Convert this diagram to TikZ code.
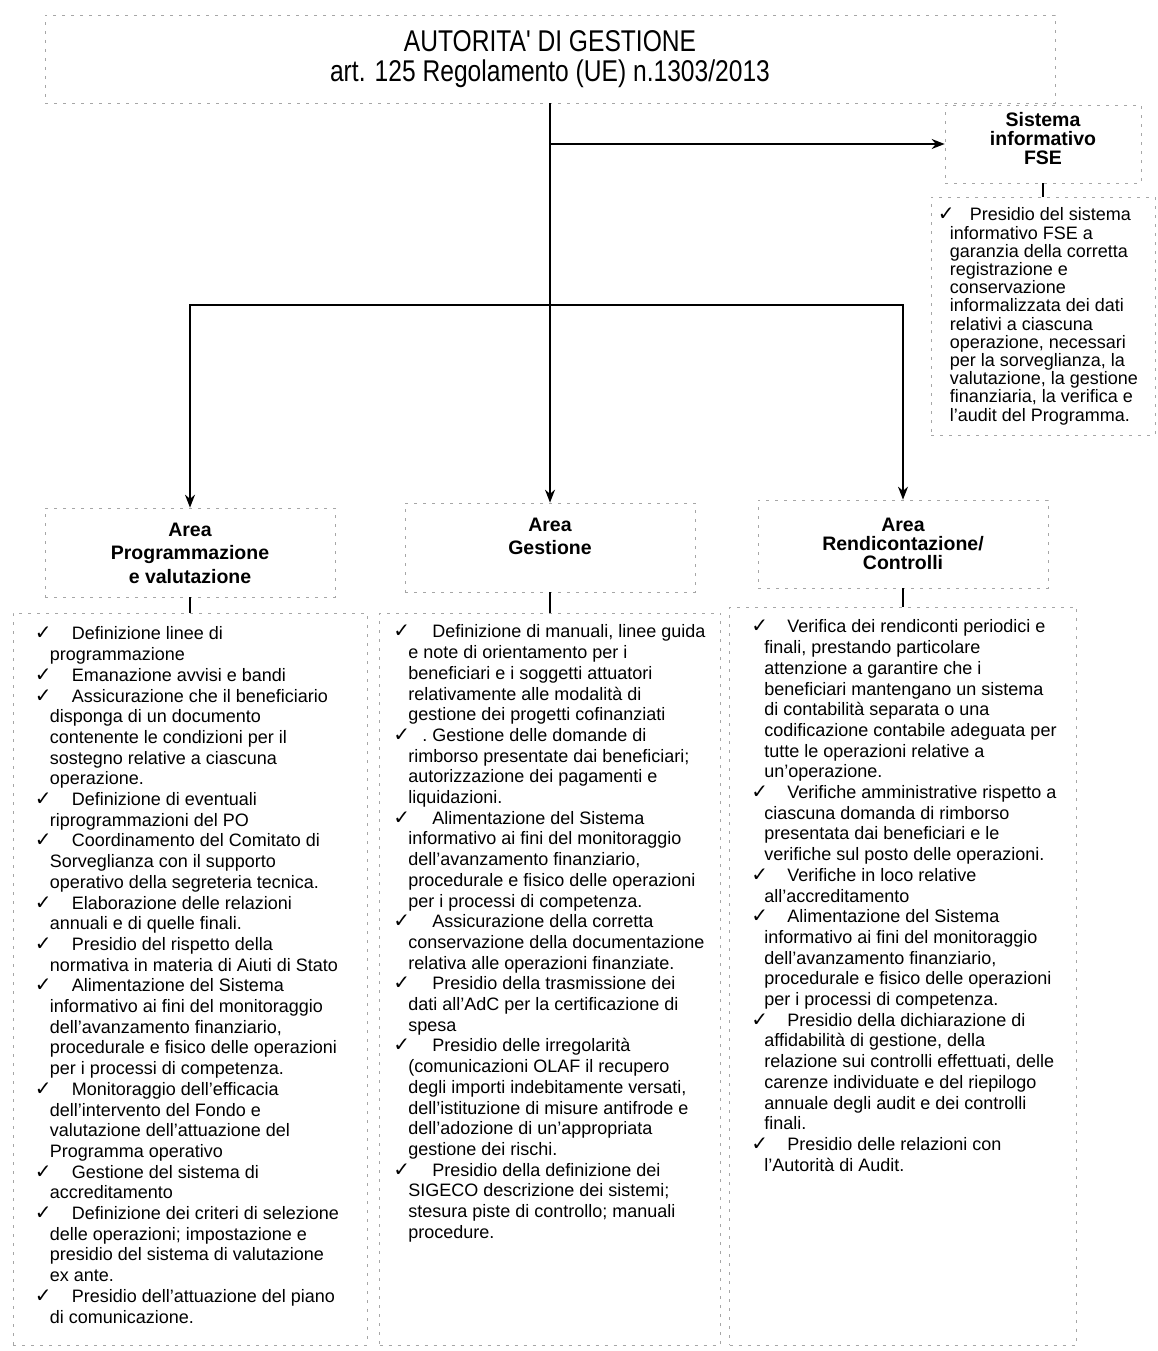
\documentclass[tikz,border=0pt]{standalone}
\usepackage{fontspec}
\setmainfont{Liberation Sans}
\newfontfamily\narrowfont[FakeStretch=0.82]{Liberation Sans}
\newfontfamily\checkfont{DejaVu Sans}
\usetikzlibrary{arrows.meta,positioning}
\newcommand{\chk}[1][37pt]{\makebox[#1][l]{\checkfont\fontsize{20}{20}\selectfont ✓}}
\newcommand{\cont}[1][15pt]{\hspace*{#1}}

\begin{document}
\begin{tikzpicture}[x=1pt, y=-1pt,
  faint/.style={draw=black!35, line width=0.7pt, dash pattern=on 3pt off 6pt},
  areabox/.style={faint, rectangle, minimum width=290pt, minimum height=89pt},
  areatext/.style={align=center, inner sep=0pt, anchor=north,
    font=\fontsize{19.5}{23.5}\selectfont\bfseries},
  listbox/.style={faint, rectangle},
  listtext/.style={align=left, inner sep=0pt, anchor=north west,
    font=\fontsize{18}{20.7}\selectfont},
  conn/.style={line width=1.6pt},
  arrow/.style={conn, -{Stealth[length=13pt, width=10pt]}}
]
  \useasboundingbox (0,0) rectangle (1157,1351);

  \node[faint, minimum width=1010pt, minimum height=88pt, align=center,
    font=\narrowfont\fontsize{30}{30}\selectfont] (ag) at (550,59)
    {AUTORITA' DI GESTIONE\\art. 125 Regolamento (UE) n.1303/2013};

  \node[faint, minimum width=196pt, minimum height=78pt] (sif) at (1043,144) {};
  \node[areatext, font=\fontsize{19.5}{19}\selectfont\bfseries, below=8pt of sif.north]
    (tsif) {Sistema\\informativo\\FSE};

  \node[areabox] (prog) at (190,552.5) {};
  \node[areatext, below=15pt of prog.north] (tprog) {Area\\Programmazione\\e valutazione};
  \node[areabox] (gest) at (550,547.5) {};
  \node[areatext, below=15pt of gest.north] (tgest) {Area\\Gestione};
  \node[areabox, minimum height=88pt] (rend) at (903,544) {};
  \node[areatext, font=\fontsize{19.5}{19}\selectfont\bfseries, below=18pt of rend.north]
    (trend) {Area\\Rendicontazione/\\Controlli};

  \node[listbox, minimum width=224pt, minimum height=238pt] (lsif) at (1043,316) {};
  \node[listbox, minimum width=354pt, minimum height=732pt] (lprog) at (190,979) {};
  \node[listbox, minimum width=341pt, minimum height=732pt] (lgest) at (550,979) {};
  \node[listbox, minimum width=347pt, minimum height=738pt] (lrend) at (903,976) {};

  \node[listtext, font=\fontsize{18}{18.2}\selectfont] (csif)
    at ([shift={(7,11)}]lsif.north west) {%
    \chk[32pt]Presidio del sistema\\
    \cont[12pt]informativo FSE a\\
    \cont[12pt]garanzia della corretta\\
    \cont[12pt]registrazione e\\
    \cont[12pt]conservazione\\
    \cont[12pt]informalizzata dei dati\\
    \cont[12pt]relativi a ciascuna\\
    \cont[12pt]operazione, necessari\\
    \cont[12pt]per la sorveglianza, la\\
    \cont[12pt]valutazione, la gestione\\
    \cont[12pt]finanziaria, la verifica e\\
    \cont[12pt]l'audit del Programma.};

  \node[listtext] (cprog) at ([shift={(22,14)}]lprog.north west) {%
    \chk Definizione linee di\\
    \cont programmazione\\
    \chk Emanazione avvisi e bandi\\
    \chk Assicurazione che il beneficiario\\
    \cont disponga di un documento\\
    \cont contenente le condizioni per il\\
    \cont sostegno relative a ciascuna\\
    \cont operazione.\\
    \chk Definizione di eventuali\\
    \cont riprogrammazioni del PO\\
    \chk Coordinamento del Comitato di\\
    \cont Sorveglianza con il supporto\\
    \cont operativo della segreteria tecnica.\\
    \chk Elaborazione delle relazioni\\
    \cont annuali e di quelle finali.\\
    \chk Presidio del rispetto della\\
    \cont normativa in materia di Aiuti di Stato\\
    \chk Alimentazione del Sistema\\
    \cont informativo ai fini del monitoraggio\\
    \cont dell'avanzamento finanziario,\\
    \cont procedurale e fisico delle operazioni\\
    \cont per i processi di competenza.\\
    \chk Monitoraggio dell'efficacia\\
    \cont dell'intervento del Fondo e\\
    \cont valutazione dell'attuazione del\\
    \cont Programma operativo\\
    \chk Gestione del sistema di\\
    \cont accreditamento\\
    \chk Definizione dei criteri di selezione\\
    \cont delle operazioni; impostazione e\\
    \cont presidio del sistema di valutazione\\
    \cont ex ante.\\
    \chk Presidio dell'attuazione del piano\\
    \cont di comunicazione.};

  \node[listtext] (cgest) at ([shift={(14,12)}]lgest.north west) {%
    \chk[39pt]Definizione di manuali, linee guida\\
    \cont e note di orientamento per i\\
    \cont beneficiari e i soggetti attuatori\\
    \cont relativamente alle modalità di\\
    \cont gestione dei progetti cofinanziati\\
    \chk[39pt]\llap{.\hspace{5pt}}Gestione delle domande di\\
    \cont rimborso presentate dai beneficiari;\\
    \cont autorizzazione dei pagamenti e\\
    \cont liquidazioni.\\
    \chk[39pt]Alimentazione del Sistema\\
    \cont informativo ai fini del monitoraggio\\
    \cont dell'avanzamento finanziario,\\
    \cont procedurale e fisico delle operazioni\\
    \cont per i processi di competenza.\\
    \chk[39pt]Assicurazione della corretta\\
    \cont conservazione della documentazione\\
    \cont relativa alle operazioni finanziate.\\
    \chk[39pt]Presidio della trasmissione dei\\
    \cont dati all'AdC per la certificazione di\\
    \cont spesa\\
    \chk[39pt]Presidio delle irregolarità\\
    \cont (comunicazioni OLAF il recupero\\
    \cont degli importi indebitamente versati,\\
    \cont dell'istituzione di misure antifrode e\\
    \cont dell'adozione di un'appropriata\\
    \cont gestione dei rischi.\\
    \chk[39pt]Presidio della definizione dei\\
    \cont SIGECO descrizione dei sistemi;\\
    \cont stesura piste di controllo; manuali\\
    \cont procedure.};

  \node[listtext] (crend) at ([shift={(22,13)}]lrend.north west) {%
    \chk[36pt]Verifica dei rendiconti periodici e\\
    \cont[13pt]finali, prestando particolare\\
    \cont[13pt]attenzione a garantire che i\\
    \cont[13pt]beneficiari mantengano un sistema\\
    \cont[13pt]di contabilità separata o una\\
    \cont[13pt]codificazione contabile adeguata per\\
    \cont[13pt]tutte le operazioni relative a\\
    \cont[13pt]un'operazione.\\
    \chk[36pt]Verifiche amministrative rispetto a\\
    \cont[13pt]ciascuna domanda di rimborso\\
    \cont[13pt]presentata dai beneficiari e le\\
    \cont[13pt]verifiche sul posto delle operazioni.\\
    \chk[36pt]Verifiche in loco relative\\
    \cont[13pt]all'accreditamento\\
    \chk[36pt]Alimentazione del Sistema\\
    \cont[13pt]informativo ai fini del monitoraggio\\
    \cont[13pt]dell'avanzamento finanziario,\\
    \cont[13pt]procedurale e fisico delle operazioni\\
    \cont[13pt]per i processi di competenza.\\
    \chk[36pt]Presidio della dichiarazione di\\
    \cont[13pt]affidabilità di gestione, della\\
    \cont[13pt]relazione sui controlli effettuati, delle\\
    \cont[13pt]carenze individuate e del riepilogo\\
    \cont[13pt]annuale degli audit e dei controlli\\
    \cont[13pt]finali.\\
    \chk[36pt]Presidio delle relazioni con\\
    \cont[13pt]l'Autorità di Audit.};

  \coordinate (tap) at (ag.south |- sif.west);
  \coordinate (branch) at (550,305);

  \draw[arrow] (ag.south) -- (gest.north);
  \draw[arrow] (tap) -- (sif.west);
  \draw[arrow] (branch) -| (prog.north);
  \draw[arrow] (branch) -| (rend.north);

  \draw[conn] (sif.south) -- (lsif.north);
  \draw[conn] (prog.south) -- (lprog.north);
  \draw[conn] (gest.south) -- (lgest.north);
  \draw[conn] (rend.south) -- (lrend.north);
\end{tikzpicture}
\end{document}
